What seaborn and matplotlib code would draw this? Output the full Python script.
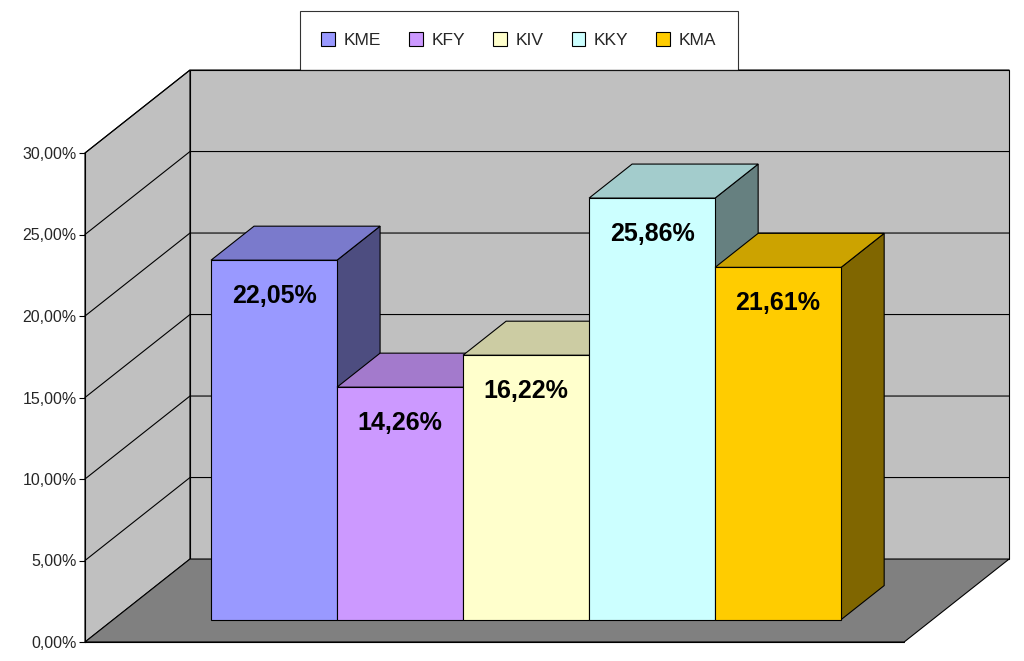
import matplotlib
matplotlib.use("Agg")
import matplotlib.pyplot as plt
import seaborn as sns
from matplotlib.patches import Polygon, Patch

categories = ["KME", "KFY", "KIV", "KKY", "KMA"]
values = [22.05, 14.26, 16.22, 25.86, 21.61]
labels = ["22,05%", "14,26%", "16,22%", "25,86%", "21,61%"]
y_ticks = [0, 5, 10, 15, 20, 25, 30]
y_tick_labels = ["0,00%", "5,00%", "10,00%", "15,00%", "20,00%", "25,00%", "30,00%"]

front_colors = ["#9999ff", "#cc99ff", "#ffffcc", "#ccffff", "#ffcc00"]
top_colors = ["#7a7acc", "#a37acc", "#cccca3", "#a3cccc", "#cca300"]
side_colors = ["#4d4d80", "#664d80", "#808066", "#668080", "#806600"]

# depth vector of the whole box in data units (x in categories, y in %)
DX, DY = 0.833, 5.09
D0, D1 = 0.27, 0.68  # bar front / back depth fractions
XL, XR, XF = -1.5, 5.84, 5.0
YMAX = 30
SHIFT = -D0 * DX  # pull bars left so their front faces sit where the reference has them

sns.set_theme(style="white", font="Liberation Sans")
fig = plt.figure(figsize=(10.24, 6.61), dpi=100)
ax = fig.add_axes([85 / 1024, 19 / 661, 925 / 1024, 489 / 661])
ax.set_xlim(XL, XR)
ax.set_ylim(0, YMAX)


def poly(pts, fc, z, ec="black", lw=0.8):
    ax.add_patch(Polygon(pts, closed=True, facecolor=fc, edgecolor=ec, lw=lw,
                         zorder=z, clip_on=False))


# walls and floor
poly([(XL, 0), (XL + DX, DY), (XL + DX, YMAX + DY), (XL, YMAX)], "#c0c0c0", 0)
poly([(XL + DX, DY), (XF + DX, DY), (XF + DX, YMAX + DY), (XL + DX, YMAX + DY)], "#c0c0c0", 0)
poly([(XL, 0), (XF, 0), (XF + DX, DY), (XL + DX, DY)], "#808080", 0)
for t in y_ticks[1:]:
    ax.plot([XL, XL + DX, XF + DX], [t, t + DY, t + DY], color="black", lw=0.8,
            zorder=1, clip_on=False)

# front faces through seaborn
df_x = [i for i in range(len(categories))]
sns.barplot(x=df_x, y=values, hue=df_x, palette=front_colors, width=1.0,
            legend=False, ax=ax, native_scale=True, zorder=0)
for p in list(ax.patches[3:]):
    p.remove()

for i, (v, fc, tc, sc, lab) in enumerate(zip(values, front_colors, top_colors, side_colors, labels)):
    x0, x1 = i - 0.5 + SHIFT, i + 0.5 + SHIFT
    fx, fy = D0 * DX, D0 * DY
    bx, by = D1 * DX, D1 * DY
    z = 3 + i * 3
    poly([(x1 + fx, fy), (x1 + bx, by), (x1 + bx, v + by), (x1 + fx, v + fy)], sc, z)
    poly([(x0 + fx, v + fy), (x1 + fx, v + fy), (x1 + bx, v + by), (x0 + bx, v + by)], tc, z + 1)
    poly([(x0 + fx, fy), (x1 + fx, fy), (x1 + fx, v + fy), (x0 + fx, v + fy)], fc, z + 2)
    ax.text(i + SHIFT + fx, v + fy - 2.2, lab, ha="center", va="center", fontsize=18,
            fontweight="bold", color="black", zorder=30)

ax.set_xticks([])
ax.set_yticks(y_ticks)
ax.set_yticklabels(y_tick_labels, fontsize=11.5)
ax.tick_params(axis="y", length=4, width=0.8, color="black", left=True, pad=2)
for s in ["top", "right", "bottom"]:
    ax.spines[s].set_visible(False)
ax.spines["left"].set_color("black")
ax.spines["left"].set_linewidth(0.8)
ax.spines["left"].set_zorder(40)
ax.plot([XL, XF], [0, 0], color="black", lw=0.8, zorder=2, clip_on=False)

handles = [Patch(facecolor=c, edgecolor="black", lw=0.8) for c in front_colors]
leg = fig.legend(handles, categories, loc="upper center", ncol=5,
                 bbox_to_anchor=(519 / 1024, 0.997), fontsize=12.5, frameon=True,
                 fancybox=False, edgecolor="black", handlelength=0.8, handleheight=0.8,
                 columnspacing=1.6, handletextpad=0.5, borderpad=1.25)
leg.get_frame().set_linewidth(0.8)

fig.savefig("out.png", dpi=100, facecolor="white")
